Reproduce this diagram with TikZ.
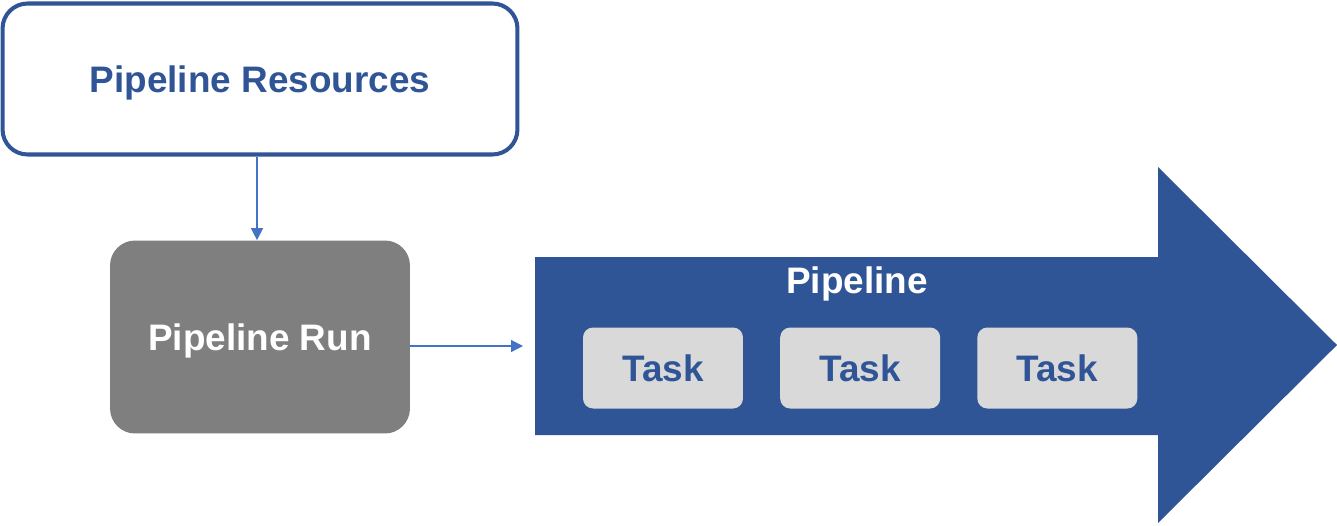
\documentclass[tikz,border=0pt]{standalone}
\usepackage{fontspec}
\setmainfont{Liberation Sans}
\usepackage{tikz}
\usetikzlibrary{arrows.meta,positioning,calc}

\definecolor{darkblue}{HTML}{2F5597}
\definecolor{lineblue}{HTML}{4472C4}
\definecolor{rungray}{HTML}{7F7F7F}
\definecolor{taskgray}{HTML}{D9D9D9}

\begin{document}
\begin{tikzpicture}[
    x=0.02cm, y=-0.02cm,
    node distance=0.73cm,
    resbox/.style={rectangle, rounded corners=0.5cm, draw=darkblue, line width=2.3pt, fill=white,
        minimum width=10.3cm, minimum height=3.02cm, text depth=0pt,
        font=\fontsize{21}{25}\selectfont\bfseries, text=darkblue},
    runbox/.style={rectangle, rounded corners=0.5cm, fill=rungray, minimum width=6cm, minimum height=3.86cm,
        text depth=0pt, font=\fontsize{21}{25}\selectfont\bfseries, text=white},
    taskbox/.style={rectangle, rounded corners=0.2cm, fill=taskgray, minimum width=3.2cm, minimum height=1.62cm,
        font=\fontsize{21}{25}\selectfont\bfseries, text=darkblue},
    arrow/.style={-{Triangle[length=0.24cm, width=0.24cm]}, draw=lineblue, line width=0.7pt}
]
    \useasboundingbox (0,0) rectangle (1337,525);

    % big pipeline arrow
    \fill[darkblue] (535,257) -- (1158,257) -- (1158,167) -- (1337,345)
        -- (1158,523) -- (1158,435) -- (535,435) -- cycle;
    \node[font=\fontsize{21}{25}\selectfont\bfseries, text=white, text depth=0pt] (pipe) at (857,280) {Pipeline};
    \coordinate (pipein) at (523,346);

    \node[resbox] (res) at (260,79) {Pipeline Resources};
    \node[runbox] (run) at (260,337) {Pipeline Run};

    \node[taskbox] (task1) at (663,368) {Task};
    \node[taskbox, right=of task1] (task2) {Task};
    \node[taskbox, right=of task2] (task3) {Task};

    \draw[arrow] (res.south -| 257,0) -- (run.north -| 257,0);
    \draw[arrow] (run.east |- pipein) -- (pipein);
\end{tikzpicture}
\end{document}
